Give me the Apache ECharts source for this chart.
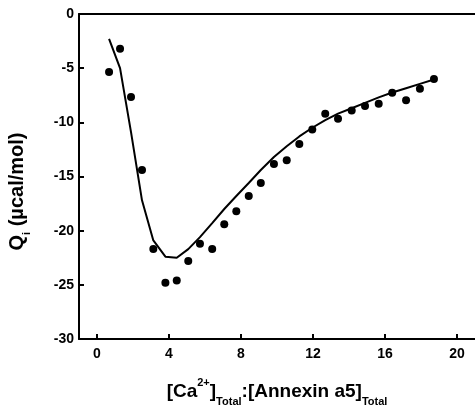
<!DOCTYPE html>
<html><head><meta charset="utf-8">
<script src="https://cdn.jsdelivr.net/npm/echarts@6/dist/echarts.min.js"></script>
<style>html,body{margin:0;padding:0;background:#fff}#c{width:475px;height:414px}</style>
</head><body><div id="c"></div>
<script>
const ratioX = [0.67,1.28,1.89,2.5,3.13,3.8,4.43,5.07,5.72,6.4,7.07,7.74,8.43,9.1,9.83,10.54,11.24,11.96,12.68,13.39,14.15,14.89,15.65,16.4,17.17,17.94,18.72];
const measuredQ = [-5.36,-3.2,-7.66,-14.4,-21.7,-24.8,-24.6,-22.8,-21.2,-21.7,-19.4,-18.2,-16.8,-15.6,-13.85,-13.5,-12.0,-10.65,-9.2,-9.67,-8.9,-8.5,-8.28,-7.26,-7.97,-6.9,-6.0];
const fitQ = [-2.3,-5.0,-10.9,-17.2,-20.9,-22.4,-22.5,-21.7,-20.6,-19.3,-18.0,-16.8,-15.6,-14.4,-13.2,-12.2,-11.3,-10.5,-9.8,-9.2,-8.7,-8.2,-7.7,-7.25,-6.85,-6.45,-6.05];
const xTicks = [0,4,8,12,16,20];
const yTicks = [0,-5,-10,-15,-20,-25,-30];

const font = 'Liberation Sans, Arial, sans-serif';
const chart = echarts.init(document.getElementById('c'));
chart.setOption({
  animation:false,
  grid:{left:79,top:14,right:0,bottom:75,containLabel:false,outerBoundsMode:'none'},
  xAxis:[{
    type:'value', min:-1, max:21,
    axisLine:{show:true,onZero:false,lineStyle:{color:'#000',width:2}},
    axisTick:{show:true,inside:true,length:5,lineStyle:{color:'#000',width:2},customValues:xTicks},
    axisLabel:{show:true,customValues:xTicks,color:'#000',fontFamily:font,fontWeight:'bold',fontSize:14,margin:8},
    splitLine:{show:false},
    name:'{b|[Ca}{sup|2+}{b|]}{sub|Total}{b|:[Annexin a5]}{sub|Total}',
    nameLocation:'middle', nameGap:38,
    nameTextStyle:{rich:{
      b:{fontFamily:font,fontWeight:'bold',fontSize:19,color:'#000',lineHeight:30},
      sup:{fontFamily:font,fontWeight:'bold',fontSize:11,color:'#000',verticalAlign:'top',lineHeight:30,padding:[0,0,6,0]},
      sub:{fontFamily:font,fontWeight:'bold',fontSize:11,color:'#000',verticalAlign:'bottom',lineHeight:30,padding:[14,0,0,0]}
    }}
  },{
    type:'value', min:-1, max:21, position:'top',
    axisLine:{show:true,onZero:false,lineStyle:{color:'#000',width:2}},
    axisTick:{show:false}, axisLabel:{show:false}, splitLine:{show:false}
  }],
  yAxis:{
    type:'value', min:-30, max:0, interval:5,
    axisLine:{show:true,onZero:false,lineStyle:{color:'#000',width:2}},
    axisTick:{show:true,inside:true,length:5,lineStyle:{color:'#000',width:2}},
    axisLabel:{color:'#000',fontFamily:font,fontWeight:'bold',fontSize:14,margin:5},
    splitLine:{show:false},
    name:'{b|Q}{sub|i}{b| (µcal/mol)}',
    nameLocation:'middle', nameGap:47,
    nameTextStyle:{padding:[0,30,0,0],rich:{
      b:{fontFamily:font,fontWeight:'bold',fontSize:20,color:'#000',lineHeight:30},
      sub:{fontFamily:font,fontWeight:'bold',fontSize:11,color:'#000',verticalAlign:'bottom',lineHeight:30,padding:[12,0,0,0]}
    }}
  },
  series:[{
    type:'line', data:ratioX.map((x,i)=>[x,fitQ[i]]), showSymbol:false, smooth:false,
    lineStyle:{color:'#000',width:2}, z:2
  },{
    type:'scatter', data:ratioX.map((x,i)=>[x,measuredQ[i]]), symbolSize:8,
    itemStyle:{color:'#000',opacity:1}, z:3
  }]
});
</script></body></html>
